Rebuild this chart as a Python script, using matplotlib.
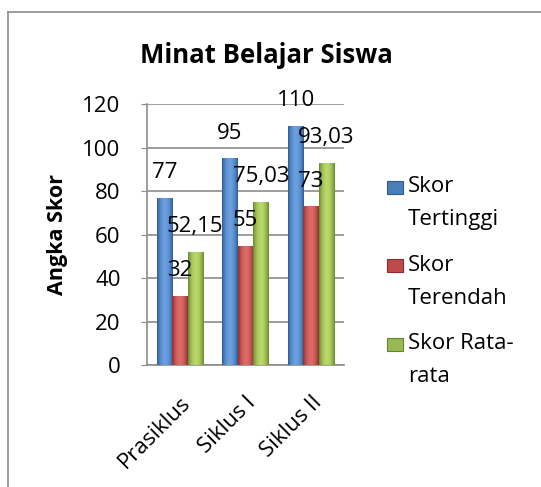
import numpy as np
import matplotlib
matplotlib.use('Agg')
import matplotlib.pyplot as plt
from matplotlib.patches import Rectangle
from matplotlib.lines import Line2D
from matplotlib.colors import to_rgb

#-------------------------------------------------------------------
# Data
kategori   = ['Prasiklus', 'Siklus I', 'Siklus II']
seri       = ['Skor\nTertinggi', 'Skor\nTerendah', 'Skor Rata-\nrata']
tertinggi  = [77, 95, 110]
terendah   = [32, 55, 73]
rata       = [52.15, 75.03, 93.03]
label_rata = ['52,15', '75,03', '93,03']
warna      = ['#4A7EBB', '#BE4B48', '#98B954']
gelap      = ['#2B5A92', '#8A2B29', '#66842C']
terang     = ['#6A9FE0', '#DC6A66', '#B8D868']

plt.rcParams['font.family'] = ['Open Sans', 'DejaVu Sans']

fig = plt.figure(figsize=(5.41, 4.87), dpi=100)
ax = fig.add_axes([0.2717, 0.2495, 0.3641, 0.537])

# profil gradien horizontal (gelap di tepi, terang di tengah)
t = np.linspace(0, 1, 64)
prof = np.sin(np.pi * t) ** 0.8

x = np.arange(len(kategori))
w = 0.235
nilai = [tertinggi, terendah, rata]
teks = [[str(v) for v in tertinggi], [str(v) for v in terendah], label_rata]
for i in range(3):
    pos = x + (i - 1) * w
    c0 = np.array(to_rgb(gelap[i]))
    c1 = np.array(to_rgb(terang[i]))
    grad = (c0[None, :] + (c1 - c0)[None, :] * prof[:, None])[None, :, :]
    bars = ax.bar(pos, nilai[i], width=w, color=warna[i], linewidth=0,
                  zorder=3)
    for b in bars:
        x0, y0 = b.get_x(), b.get_y()
        im = ax.imshow(grad, extent=[x0, x0 + b.get_width(), y0,
                                     y0 + b.get_height()],
                       aspect='auto', zorder=3.5, interpolation='bilinear')
        im.set_clip_path(b)
    for p, v, tx in zip(pos, nilai[i], teks[i]):
        ax.annotate(tx, (p, v), xytext=(0, 18), textcoords='offset points',
                    ha='center', va='center', fontsize=16, zorder=5)

ax.set_xlim(-0.5, 2.5)
ax.set_ylim(0, 120)
ax.set_yticks(range(0, 121, 20))
ax.yaxis.grid(True, color='#8c8c8c', linewidth=1.2, zorder=0)
ax.set_xticks(x)
ax.set_xticklabels(kategori, rotation=45, ha='right', rotation_mode='anchor',
                   fontsize=16)
ax.tick_params(axis='y', labelsize=16, length=4, color='#8c8c8c', pad=15)
ax.tick_params(axis='x', length=0, pad=19)
for s in ['top', 'right']:
    ax.spines[s].set_visible(False)
for s in ['left', 'bottom']:
    ax.spines[s].set_color('#8c8c8c')
    ax.spines[s].set_linewidth(1.2)

ax.set_ylabel('Angka Skor', fontsize=15.5, fontweight='bold', labelpad=10)
fig.text(0.4926, 0.887, 'Minat Belajar Siswa', ha='center', va='center',
         fontsize=18.5, fontweight='bold')

# legenda manual
for i in range(3):
    dy = 0.161 * i
    fig.patches.append(Rectangle((0.715, 0.6016 - dy), 0.030, 0.0267,
                                 transform=fig.transFigure, facecolor=warna[i],
                                 edgecolor=gelap[i], linewidth=0.8))
    fig.text(0.754, 0.638 - dy, seri[i], ha='left', va='top', fontsize=16,
             linespacing=1.75)

# bingkai
fig.add_artist(Line2D([0.0148, 0.0148], [0, 0.975], transform=fig.transFigure,
                      color='#8c8c8c', linewidth=1.2))
fig.add_artist(Line2D([0.0148, 1], [0.975, 0.975], transform=fig.transFigure,
                      color='#8c8c8c', linewidth=1.2))

fig.savefig('out.png', dpi=100)
